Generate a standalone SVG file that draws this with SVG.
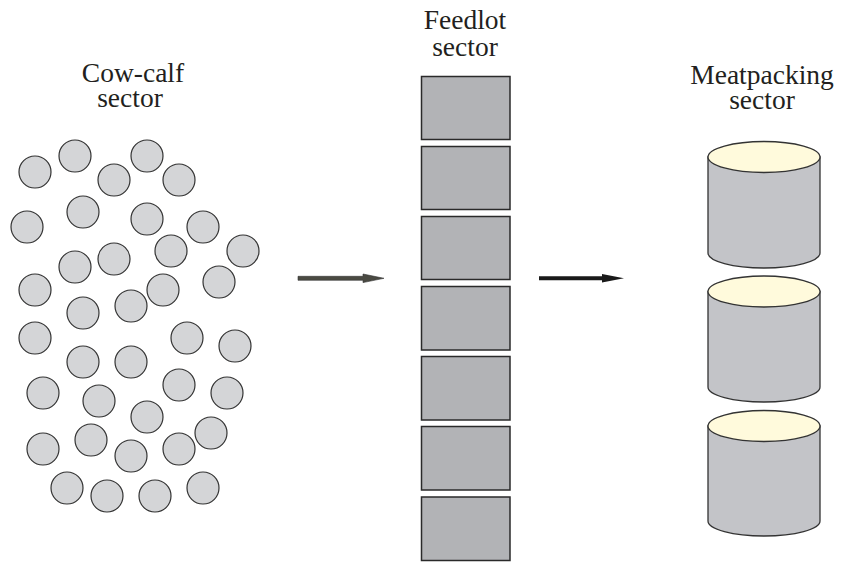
<svg xmlns="http://www.w3.org/2000/svg" width="843" height="562" viewBox="0 0 843 562">
<style>
text{font-size:27.5px;fill:#231f20;text-anchor:middle}
.c{fill:#d4d5d7;stroke:#333;stroke-width:1.2}
.r{fill:#b2b3b6;stroke:#2a2a2a;stroke-width:1.5}
.cb{fill:#c3c4c8;stroke:#333;stroke-width:1.3}
.ct{fill:#fffadc;stroke:#333;stroke-width:1.3}
</style>
<rect width="843" height="562" fill="#fff"/>
<g id="cowcalf">
<text x="133" y="82" font-family="Liberation Serif, serif">Cow-calf</text>
<text x="130" y="107" font-family="Liberation Serif, serif">sector</text>
<circle class="c" cx="35" cy="172" r="16"/>
<circle class="c" cx="75" cy="156" r="16"/>
<circle class="c" cx="114" cy="180" r="16"/>
<circle class="c" cx="147" cy="156" r="16"/>
<circle class="c" cx="179" cy="180" r="16"/>
<circle class="c" cx="83" cy="212" r="16"/>
<circle class="c" cx="27" cy="227" r="16"/>
<circle class="c" cx="147" cy="219" r="16"/>
<circle class="c" cx="203" cy="227" r="16"/>
<circle class="c" cx="114" cy="259" r="16"/>
<circle class="c" cx="171" cy="251" r="16"/>
<circle class="c" cx="243" cy="251" r="16"/>
<circle class="c" cx="75" cy="267" r="16"/>
<circle class="c" cx="35" cy="290" r="16"/>
<circle class="c" cx="163" cy="290" r="16"/>
<circle class="c" cx="219" cy="282" r="16"/>
<circle class="c" cx="131" cy="306" r="16"/>
<circle class="c" cx="83" cy="313" r="16"/>
<circle class="c" cx="35" cy="338" r="16"/>
<circle class="c" cx="187" cy="338" r="16"/>
<circle class="c" cx="235" cy="346" r="16"/>
<circle class="c" cx="83" cy="362" r="16"/>
<circle class="c" cx="131" cy="362" r="16"/>
<circle class="c" cx="43" cy="393" r="16"/>
<circle class="c" cx="179" cy="385" r="16"/>
<circle class="c" cx="227" cy="393" r="16"/>
<circle class="c" cx="99" cy="401" r="16"/>
<circle class="c" cx="147" cy="417" r="16"/>
<circle class="c" cx="91" cy="440" r="16"/>
<circle class="c" cx="211" cy="433" r="16"/>
<circle class="c" cx="43" cy="449" r="16"/>
<circle class="c" cx="131" cy="456" r="16"/>
<circle class="c" cx="179" cy="449" r="16"/>
<circle class="c" cx="67" cy="488" r="16"/>
<circle class="c" cx="107" cy="496" r="16"/>
<circle class="c" cx="155" cy="496" r="16"/>
<circle class="c" cx="203" cy="488" r="16"/>
</g>
<g id="feedlot">
<text x="465" y="29" font-family="Liberation Serif, serif">Feedlot</text>
<text x="465" y="56" font-family="Liberation Serif, serif">sector</text>
<rect class="r" x="421.5" y="76.5" width="88.5" height="63"/>
<rect class="r" x="421.5" y="146.5" width="88.5" height="63"/>
<rect class="r" x="421.5" y="216.5" width="88.5" height="63"/>
<rect class="r" x="421.5" y="286.5" width="88.5" height="63.5"/>
<rect class="r" x="421.5" y="356.5" width="88.5" height="63.5"/>
<rect class="r" x="421.5" y="426.5" width="88.5" height="63.5"/>
<rect class="r" x="421.5" y="497" width="88.5" height="63.5"/>
</g>
<g id="meatpacking">
<text x="762" y="84" font-family="Liberation Serif, serif">Meatpacking</text>
<text x="762" y="109" font-family="Liberation Serif, serif">sector</text>
<g id="cyl1">
<path class="cb" d="M708,157 V253 A56,15 0 0 0 820,253 V157 Z"/>
<ellipse class="ct" cx="764" cy="157" rx="56" ry="15.5"/>
</g>
<g id="cyl2">
<path class="cb" d="M708,291.5 V387 A56,15 0 0 0 820,387 V291.5 Z"/>
<ellipse class="ct" cx="764" cy="291.5" rx="56" ry="15.5"/>
</g>
<g id="cyl3">
<path class="cb" d="M708,426 V521 A56,15 0 0 0 820,521 V426 Z"/>
<ellipse class="ct" cx="764" cy="426" rx="56" ry="15.5"/>
</g>
</g>
<g id="connectors">
<path d="M298,276.3 H363 V274 L384,278.3 L363,282.6 V280.3 H298 Z" fill="#4a4a42" stroke="#333" stroke-width="0.6"/>
<path d="M539,276.3 H602 V274 L624,278.3 L602,282.6 V280.3 H539 Z" fill="#1a1a1a"/>
</g>
</svg>
